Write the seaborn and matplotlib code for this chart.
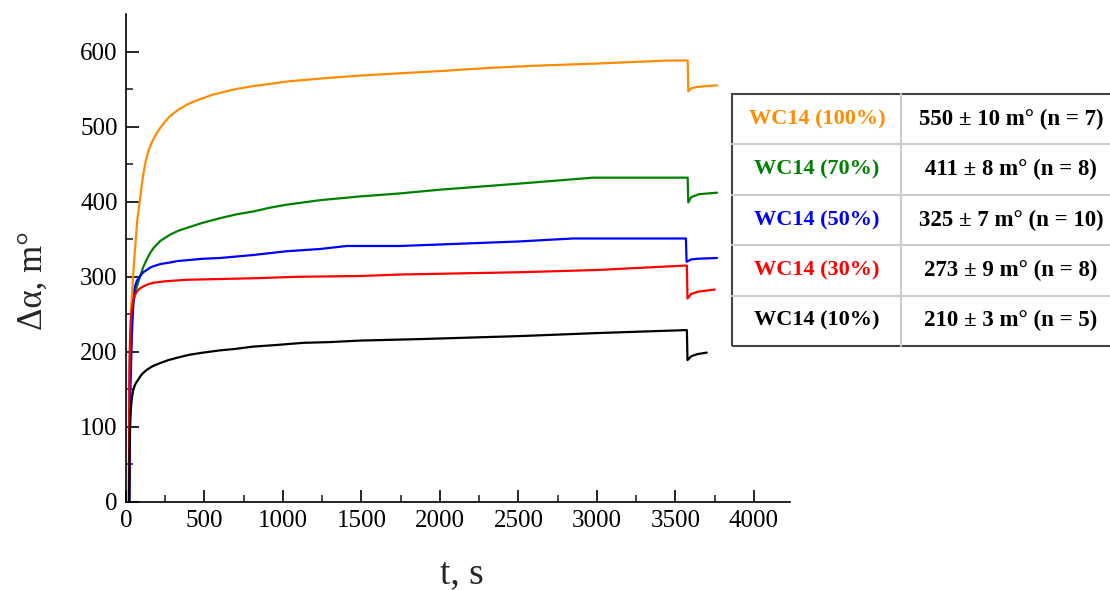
import numpy as np
import pandas as pd
import matplotlib
matplotlib.use("Agg")
import matplotlib.pyplot as plt
from matplotlib.lines import Line2D
from matplotlib.patches import Rectangle
import seaborn as sns

# ---------------- data ----------------
t_100 = [18, 22, 26, 30, 36, 45, 55, 65, 72, 89, 100, 110, 120, 130, 142, 158, 174, 195, 217,
         250, 280, 330, 386, 440, 492, 545, 599, 700, 811, 920, 1023, 1236, 1490, 1745, 2000,
         2300, 2594, 3000, 3443, 3578, 3582, 3600, 3640, 3700, 3765]
v_100 = [0, 120, 200, 240, 270, 300, 330, 357, 376, 403, 422, 436, 448, 458, 467, 476, 483,
         491, 498, 507, 514, 522, 529, 534, 538, 542, 545, 550, 554, 557, 560, 564, 568, 571,
         574, 578, 581, 584, 588, 588, 547, 551, 553, 554, 555]

t_70 = [20, 25, 30, 38, 47, 60, 75, 89, 110, 132, 152, 174, 220, 280, 330, 386, 490, 599, 700,
        811, 917, 1023, 1236, 1490, 1745, 2000, 2500, 2975, 3578, 3582, 3600, 3650, 3765]
v_70 = [0, 200, 225, 248, 265, 280, 291, 300, 313, 323, 331, 338, 348, 356, 361, 365, 372, 378,
        383, 387, 392, 396, 402, 407, 411, 416, 424, 432, 432, 399, 406, 410, 412]

t_50 = [22, 28, 38, 47, 57, 70, 90, 110, 132, 152, 174, 220, 280, 330, 386, 490, 599, 811,
        1023, 1236, 1406, 1745, 2000, 2500, 2850, 3567, 3571, 3600, 3640, 3765]
v_50 = [0, 150, 225, 265, 287, 295, 301, 306, 309, 312, 314, 317, 319, 321, 322, 324, 325, 329,
        334, 337, 341, 341, 343, 347, 351, 351, 320, 323, 324, 325]

t_30 = [18, 21, 25, 30, 36, 45, 55, 68, 85, 110, 140, 174, 250, 386, 600, 811, 1100, 1490,
        1745, 2500, 3000, 3573, 3577, 3600, 3640, 3750]
v_30 = [0, 163, 210, 240, 256, 268, 275, 280, 284, 287, 290, 292, 294, 296, 297, 298, 300, 301,
        303, 306, 309, 315, 271, 277, 280, 283]

t_10 = [20, 22, 25, 30, 37, 45, 57, 68, 78, 100, 132, 170, 217, 270, 323, 400, 492, 600, 700,
        811, 950, 1129, 1299, 1490, 1873, 2510, 3000, 3573, 3577, 3600, 3640, 3700]
v_10 = [0, 60, 100, 122, 138, 148, 156, 160, 163, 170, 176, 181, 185, 189, 192, 196, 199, 202,
        204, 207, 209, 212, 213, 215, 217, 221, 225, 229, 189, 194, 197, 199]

series_names = ["WC14 (100%)", "WC14 (70%)", "WC14 (50%)", "WC14 (30%)", "WC14 (10%)"]
series_values = ["550 ± 10 m° (n = 7)", "411 ± 8 m° (n = 8)", "325 ± 7 m° (n = 10)",
                 "273 ± 9 m° (n = 8)", "210 ± 3 m° (n = 5)"]
series_colors = ["#FF8C00", "#008000", "#0000FF", "#FF0000", "#000000"]

x_ticks = [0, 500, 1000, 1500, 2000, 2500, 3000, 3500, 4000]
y_ticks = [0, 100, 200, 300, 400, 500, 600]

# ---------------- build frame ----------------
frames = []
for name, t, v in zip(series_names, [t_100, t_70, t_50, t_30, t_10],
                      [v_100, v_70, v_50, v_30, v_10]):
    frames.append(pd.DataFrame({"t": t, "v": v, "series": name}))
df = pd.concat(frames, ignore_index=True)

# ---------------- plot ----------------
sns.set_theme(style="ticks")
plt.rcParams["font.family"] = ["Liberation Serif", "DejaVu Serif"]

fig = plt.figure(figsize=(11.1, 5.9), dpi=100)
ax = fig.add_axes([126 / 1110, 1 - 502 / 590, (790 - 126) / 1110, (502 - 14) / 590])

sns.lineplot(data=df, x="t", y="v", hue="series", hue_order=series_names,
             palette=dict(zip(series_names, series_colors)), estimator=None,
             sort=False, linewidth=1.6, legend=False, ax=ax)

ax.set_xlim(0, 4230)
ax.set_ylim(0, 650)
ax.set_xticks(x_ticks)
ax.set_yticks(y_ticks)
ax.set_xticks(np.arange(250, 4250, 500), minor=True)
ax.set_yticks(np.arange(50, 650, 100), minor=True)
ax.tick_params(axis="both", which="major", direction="in", length=9, width=1.2,
               labelsize=18, colors="black", pad=6)
ax.tick_params(axis="both", which="minor", direction="in", length=5, width=1.2)
ax.set_xlabel("")
ax.set_ylabel("")
for side in ["top", "right"]:
    ax.spines[side].set_visible(False)
for side in ["left", "bottom"]:
    ax.spines[side].set_color("black")
    ax.spines[side].set_linewidth(1.2)

fig.text(33 / 1110, 1 - 281 / 590, "Δα, m°", rotation=90, ha="center", va="center",
         fontsize=25)
fig.text(462 / 1110, 1 - 574 / 590, "t, s", ha="center", va="center", fontsize=27)

# ---------------- table ----------------
L, R, T, B, C = 732, 1112, 94, 346, 901
W, H = 1110.0, 590.0
row_h = (B - T) / 5.0
for k in range(1, 5):
    y = 1 - (T + k * row_h) / H
    fig.add_artist(Line2D([L / W, R / W], [y, y], color="#cccccc", lw=1.5))
fig.add_artist(Line2D([C / W, C / W], [1 - T / H, 1 - B / H], color="#cccccc", lw=1.5))
fig.add_artist(Rectangle((L / W, 1 - B / H), (R - L) / W, (B - T) / H, fill=False,
                         edgecolor="#444444", lw=1.5))
for k, (name, val, col) in enumerate(zip(series_names, series_values, series_colors)):
    yc = 1 - (T + (k + 0.5) * row_h) / H
    fig.text(817 / W, yc, name, color=col, fontsize=16, fontweight="bold",
             ha="center", va="center")
    fig.text(1011 / W, yc, val, color="black", fontsize=16.5, fontweight="bold",
             ha="center", va="center")

fig.savefig("out.png", dpi=100, facecolor="white")
